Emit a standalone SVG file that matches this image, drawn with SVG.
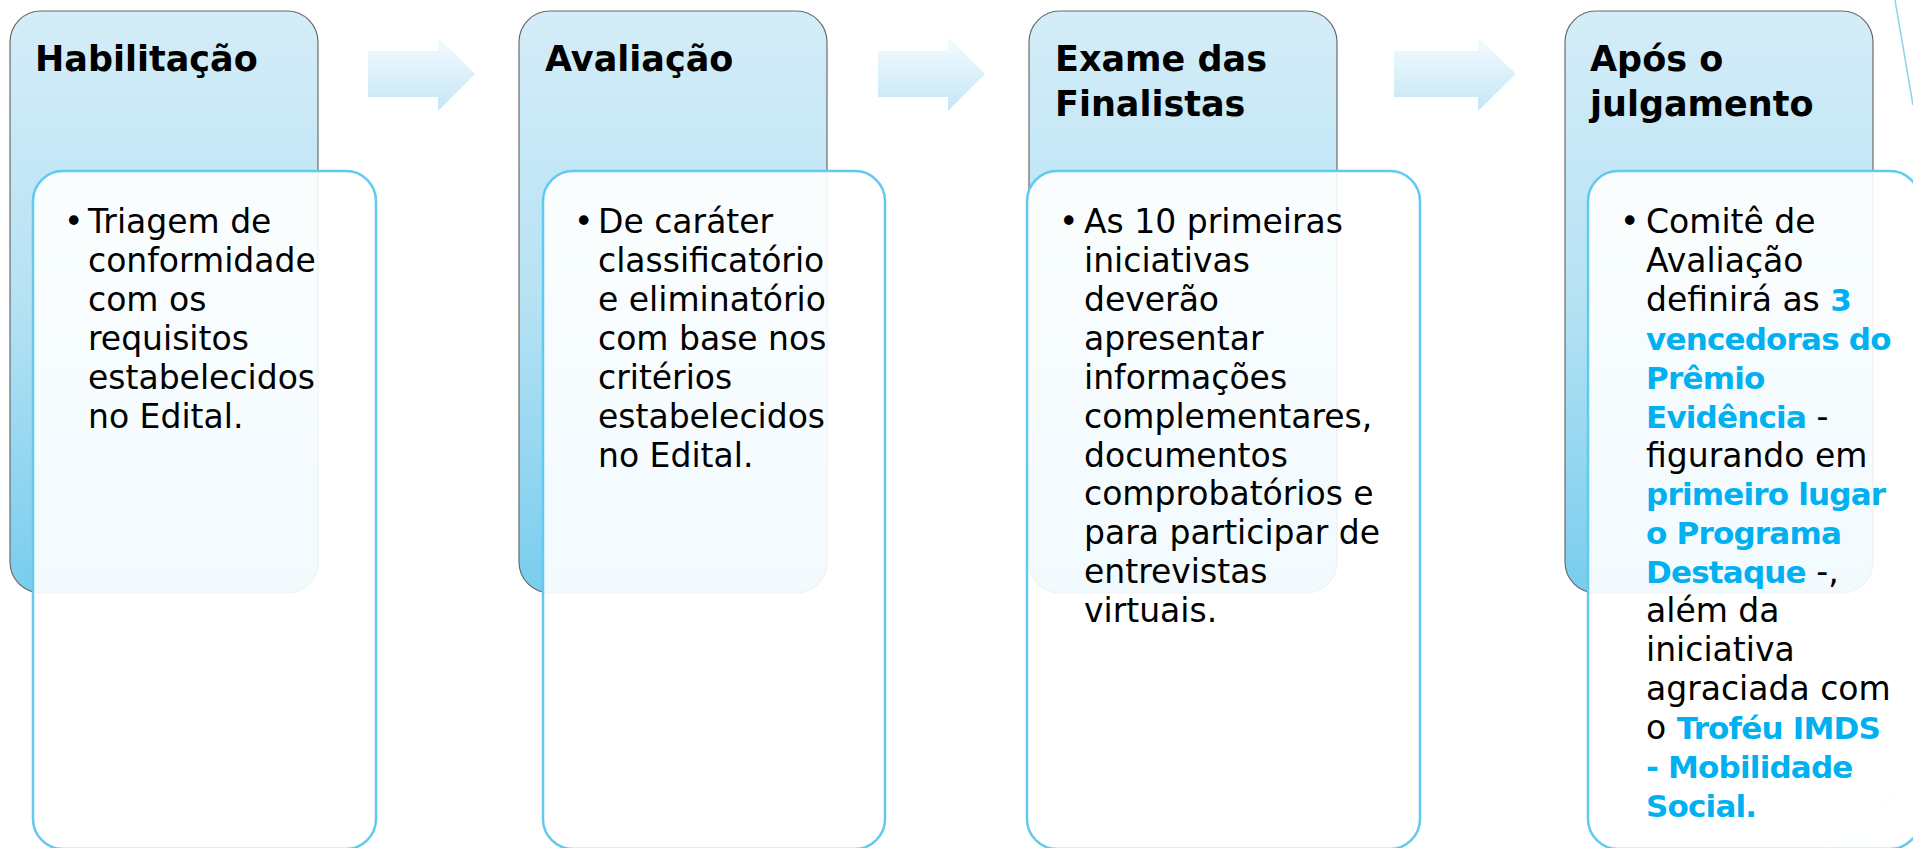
<svg xmlns="http://www.w3.org/2000/svg" width="1913" height="848" viewBox="0 0 1913 848">
  <defs>
    <linearGradient id="gOuter" x1="0" y1="0" x2="0" y2="1">
      <stop offset="0" stop-color="#d4edf8"/>
      <stop offset="0.5" stop-color="#b6e2f4"/>
      <stop offset="1" stop-color="#78cdee"/>
    </linearGradient>
    <linearGradient id="gArrow" x1="0" y1="0" x2="0" y2="1">
      <stop offset="0" stop-color="#f4fbfe"/>
      <stop offset="1" stop-color="#c4e6f6"/>
    </linearGradient>
    <style>
      .outer { fill: url(#gOuter); stroke: #6a6a6a; stroke-width: 1.2; }
      .inner { fill: #ffffff; fill-opacity: 0.9; stroke: #62c9ef; stroke-width: 2.5; }
      .arrow { fill: url(#gArrow); stroke: none; }
      .title { font-family: "DejaVu Sans", "Liberation Sans", sans-serif; font-weight: bold; font-size: 35px; fill: #000; }
      .body { font-family: "DejaVu Sans", "Liberation Sans", sans-serif; font-size: 33px; fill: #000; }
      .hl { font-weight: bold; fill: #00b0f0; font-size: 31px; letter-spacing: -0.8px; }
      .deco { fill: #f3fafd; stroke: #cdeaf7; stroke-width: 1.2; }
    </style>
  </defs>
  <rect width="1913" height="848" fill="#ffffff"/>
  <g id="background">
    <line x1="1895" y1="0" x2="1913" y2="105" stroke="#8fd3ef" stroke-width="1.5"/>
    <polygon class="deco" points="1817,848 1913,783 1913,713 1873,848"/>
  </g>
  <g id="connectors">
    <polygon class="arrow" points="368,51 438,51 438,37 475,74 438,111 438,97 368,97"/>
    <polygon class="arrow" points="878,51 948,51 948,37 985,74 948,111 948,97 878,97"/>
    <polygon class="arrow" points="1394,51 1478,51 1478,37 1516,74 1478,111 1478,97 1394,97"/>
  </g>
  <g id="node-habilitacao">
    <rect class="outer" x="10" y="11" width="308" height="582" rx="31" ry="31"/>
    <text class="title" x="35" y="71">Habilitação</text>
    <rect class="inner" x="33" y="171" width="343" height="678" rx="30" ry="30"/>
    <text class="body"><tspan x="64" y="233">•</tspan></text>
    <text class="body">
      <tspan x="88" y="233">Triagem de</tspan>
      <tspan x="88" y="272">conformidade</tspan>
      <tspan x="88" y="311">com os</tspan>
      <tspan x="88" y="350">requisitos</tspan>
      <tspan x="88" y="389">estabelecidos</tspan>
      <tspan x="88" y="428">no Edital.</tspan>
    </text>
  </g>
  <g id="node-avaliacao">
    <rect class="outer" x="519" y="11" width="308" height="582" rx="31" ry="31"/>
    <text class="title" x="545" y="71">Avaliação</text>
    <rect class="inner" x="543" y="171" width="342" height="678" rx="30" ry="30"/>
    <text class="body"><tspan x="574" y="233">•</tspan></text>
    <text class="body">
      <tspan x="598" y="233">De caráter</tspan>
      <tspan x="598" y="272">classificatório</tspan>
      <tspan x="598" y="311">e eliminatório</tspan>
      <tspan x="598" y="350">com base nos</tspan>
      <tspan x="598" y="389">critérios</tspan>
      <tspan x="598" y="428">estabelecidos</tspan>
      <tspan x="598" y="467">no Edital.</tspan>
    </text>
  </g>
  <g id="node-exame">
    <rect class="outer" x="1029" y="11" width="308" height="582" rx="31" ry="31"/>
    <text class="title"><tspan x="1055" y="71">Exame das</tspan><tspan x="1055" y="116">Finalistas</tspan></text>
    <rect class="inner" x="1027" y="171" width="393" height="678" rx="30" ry="30"/>
    <text class="body"><tspan x="1059" y="233">•</tspan></text>
    <text class="body">
      <tspan x="1084" y="233">As 10 primeiras</tspan>
      <tspan x="1084" y="272">iniciativas</tspan>
      <tspan x="1084" y="311">deverão</tspan>
      <tspan x="1084" y="350">apresentar</tspan>
      <tspan x="1084" y="389">informações</tspan>
      <tspan x="1084" y="428">complementares,</tspan>
      <tspan x="1084" y="467">documentos</tspan>
      <tspan x="1084" y="505">comprobatórios e</tspan>
      <tspan x="1084" y="544">para participar de</tspan>
      <tspan x="1084" y="583">entrevistas</tspan>
      <tspan x="1084" y="622">virtuais.</tspan>
    </text>
  </g>
  <g id="node-apos">
    <rect class="outer" x="1565" y="11" width="308" height="582" rx="31" ry="31"/>
    <text class="title"><tspan x="1590" y="71">Após o</tspan><tspan x="1590" y="116">julgamento</tspan></text>
    <rect class="inner" x="1588" y="171" width="332" height="678" rx="30" ry="30"/>
    <text class="body"><tspan x="1620" y="233">•</tspan></text>
    <text class="body">
      <tspan x="1646" y="233">Comitê de</tspan>
      <tspan x="1646" y="272">Avaliação</tspan>
      <tspan x="1646" y="311">definirá as <tspan class="hl">3</tspan></tspan>
      <tspan x="1646" y="350" class="hl">vencedoras do</tspan>
      <tspan x="1646" y="389" class="hl">Prêmio</tspan>
      <tspan x="1646" y="428"><tspan class="hl">Evidência</tspan> -</tspan>
      <tspan x="1646" y="467">figurando em</tspan>
      <tspan x="1646" y="505" class="hl">primeiro lugar</tspan>
      <tspan x="1646" y="544" class="hl">o Programa</tspan>
      <tspan x="1646" y="583"><tspan class="hl">Destaque</tspan> -,</tspan>
      <tspan x="1646" y="622">além da</tspan>
      <tspan x="1646" y="661">iniciativa</tspan>
      <tspan x="1646" y="700">agraciada com</tspan>
      <tspan x="1646" y="739">o <tspan class="hl">Troféu IMDS</tspan></tspan>
      <tspan x="1646" y="778" class="hl">- Mobilidade</tspan>
      <tspan x="1646" y="817" class="hl">Social.</tspan>
    </text>
  </g>
</svg>
